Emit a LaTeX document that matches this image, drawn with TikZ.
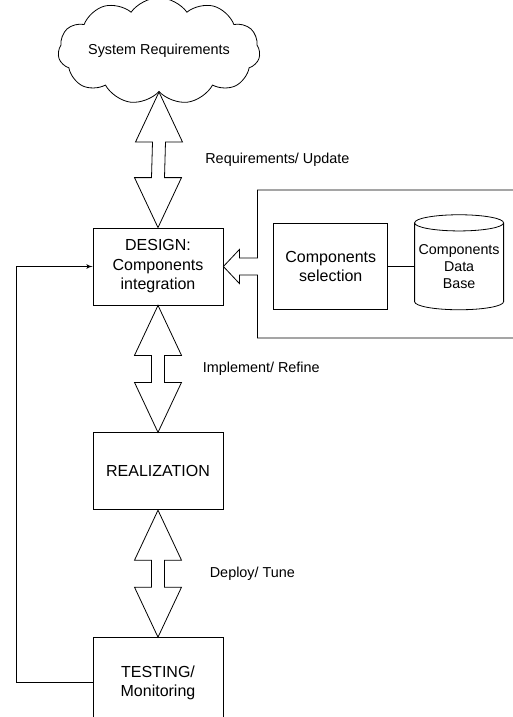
\documentclass[tikz,border=0pt]{standalone}
\usepackage{fontspec}
\setmainfont{Liberation Sans}
\usepackage{tikz}
\usetikzlibrary{shapes,arrows}
\usetikzlibrary{calc}
\usetikzlibrary{positioning}
\tikzstyle{block} = [draw, rectangle, align=center, inner sep=0pt,
    minimum width=97.5pt, minimum height=57.75pt, font=\fontsize{12}{14.6}\selectfont]
\tikzstyle{cloudbox} = [draw, cloud, cloud puffs=11, cloud puff arc=110, aspect=3.6,
    inner sep=0pt, minimum width=151.5pt, minimum height=80pt, font=\fontsize{10.8}{13}\selectfont]
\tikzstyle{dbase} = [draw, cylinder, shape border rotate=90, aspect=0.2, align=center,
    inner sep=0pt, minimum width=66.75pt, minimum height=71.25pt, font=\fontsize{10.7}{12.75}\selectfont]
\tikzstyle{lbl} = [anchor=west, font=\fontsize{10.8}{13}\selectfont]

\begin{document}
\begin{tikzpicture}[x=0.75pt, y=-0.75pt, node distance=95.25pt, line width=0.6pt, >=latex']
    \useasboundingbox (0,0) rectangle (513,717);

    \node [cloudbox] (req) at (159,51) {System Requirements};
    \node [block] (design) at (158,266.5) {DESIGN:\\Components\\integration};
    \node [block, below=of design] (realize) {REALIZATION};
    \node [block, below=of realize, minimum height=67.5pt] (testing) {TESTING/\\Monitoring};
    \node [block, right=37.5pt of design, minimum width=85.5pt, minimum height=64.5pt] (select) {Components\\selection};
    \node [dbase, right=19.5pt of select] (db) {Components\\Data\\Base};

    \draw (select) -- (db);

    % component pool, open to the right
    \draw (design.east) -- ++(16,-17) -- ++(0,8.5) -- ++(18,0) -- ++(0,-68) -- ++(280,0)
        -- ++(0,148) -- ++(-280,0) -- ++(0,-63) -- ++(-18,0) -- ++(0,8.5) -- cycle;

    % two-way flow between the stages
    \foreach \a/\b/\dx/\txt in {req.-90/design.north/42/{Requirements/ Update},
                               design.south/realize.north/40/{Implement/ Refine},
                               realize.south/testing.north/47/{Deploy/ Tune}} {
        \draw (\a) -- ++(-23.5,50) -- ++(17,0) -- ($(\b)+(-6.5,-50)$) -- ++(-17,0)
            -- (\b) -- ++(23.5,-50) -- ++(-17,0) -- ($(\a)+(6.5,50)$) -- ++(17,0) -- cycle;
        \node [lbl] at ($(\a)!0.5!(\b)+(\dx,0)$) {\txt};
    }

    \draw [->] (testing.west) -- ++(-76,0) |- (design.west);
\end{tikzpicture}
\end{document}
